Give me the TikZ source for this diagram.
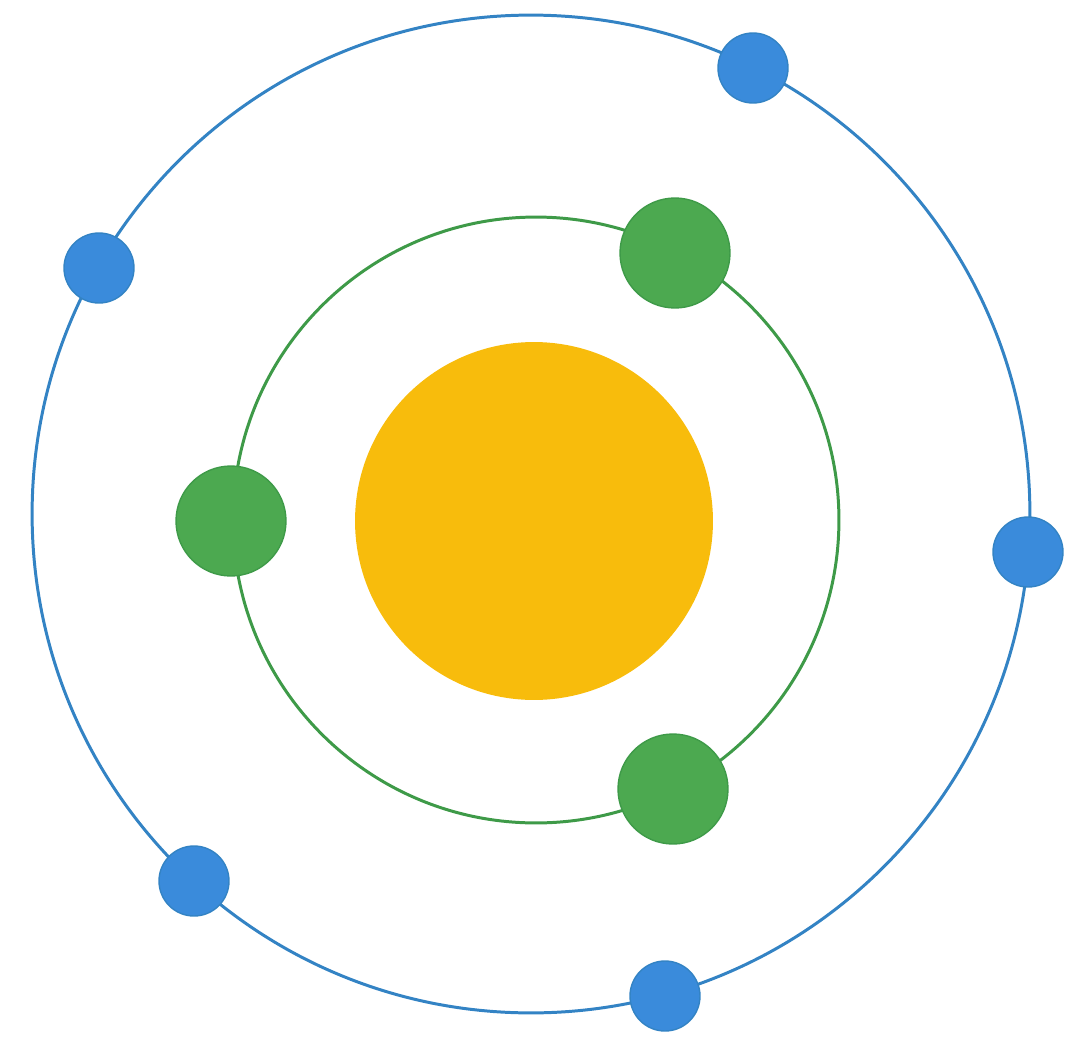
\documentclass[tikz,border=0pt]{standalone}
\usepackage{tikz}

\definecolor{sunyellow}{HTML}{F8BC0C}
\definecolor{innergreen}{HTML}{4CA950}
\definecolor{innergreenline}{HTML}{3E9A48}
\definecolor{outerblue}{HTML}{3A8BDB}
\definecolor{outerblueline}{HTML}{3383C4}

\tikzset{
    orbit/.style={line width=1.7pt},
    sun/.style={circle, fill=sunyellow, minimum size=7.16cm, inner sep=0pt},
    greenplanet/.style={circle, draw=innergreenline, line width=0.8pt, fill=innergreen, minimum size=2.2cm, inner sep=0pt},
    blueplanet/.style={circle, draw=outerblueline, line width=0.8pt, fill=outerblue, minimum size=1.4cm, inner sep=0pt}
}

\begin{document}
\begin{tikzpicture}[x=0.02cm, y=-0.02cm]

    \useasboundingbox (0,0) rectangle (1092,1041);

    % Órbitas
    \draw[orbit, outerblueline] (531,514) circle[radius=9.98cm];
    \draw[orbit, innergreenline] (536,520) circle[radius=6.06cm];

    % Sol
    \node[sun] (sol) at (534,521) {};

    % Planetas da órbita interna
    \node[greenplanet] (g1) at (675,253) {};
    \node[greenplanet] (g2) at (231,521) {};
    \node[greenplanet] (g3) at (673,789) {};

    % Planetas da órbita externa
    \node[blueplanet] (b1) at (753,68) {};
    \node[blueplanet] (b2) at (99,268) {};
    \node[blueplanet] (b3) at (1028,552) {};
    \node[blueplanet] (b4) at (194,881) {};
    \node[blueplanet] (b5) at (665,996) {};

\end{tikzpicture}
\end{document}
